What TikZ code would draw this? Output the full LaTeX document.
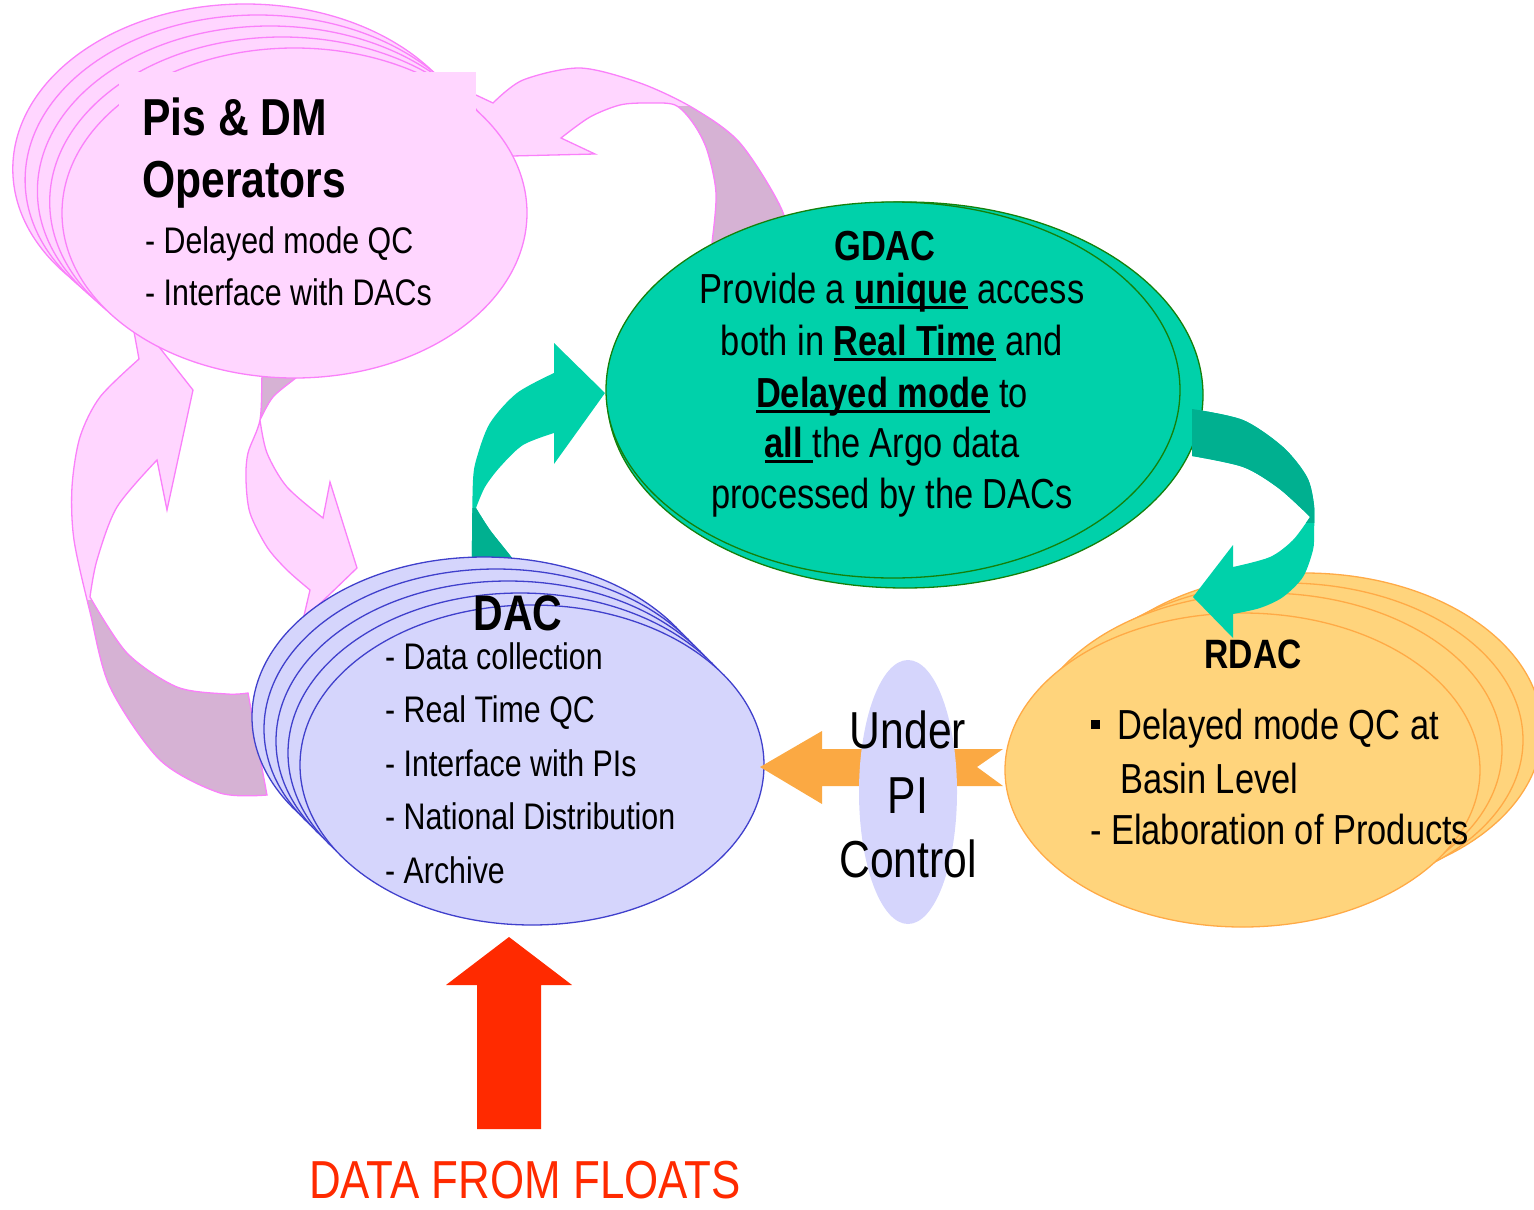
\documentclass[tikz,border=0pt]{standalone}
\usepackage{fontspec}
\setmainfont{Liberation Sans}[FakeStretch=0.82]
\usetikzlibrary{shapes.geometric}

\definecolor{pinkfill}{RGB}{255,214,255}
\definecolor{pinkline}{RGB}{250,128,250}
\definecolor{pinkdark}{RGB}{214,178,212}
\definecolor{tealfill}{RGB}{0,209,170}
\definecolor{tealdark}{RGB}{0,176,144}
\definecolor{gdacedge}{RGB}{20,128,10}
\definecolor{dacfill}{RGB}{213,213,252}
\definecolor{dacedge}{RGB}{64,64,204}
\definecolor{rdacfill}{RGB}{255,212,124}
\definecolor{rdacedge}{RGB}{255,170,70}
\definecolor{orangearrow}{RGB}{251,169,67}
\definecolor{redarrow}{RGB}{255,42,0}

\newcommand{\fsz}[1]{\fontsize{#1}{#1}\selectfont}
\newcommand{\ubf}[1]{\setbox0\hbox{\bfseries #1}\rlap{\rule[-6pt]{\wd0}{2.6pt}}\box0\relax}

% outlines of the curved block arrows
\newcommand{\arrowPG}{(512,156) -- (595,154) -- (561,138)
  -- plot[smooth] coordinates {(561,138) (590,117) (620,105) (647,103) (675,105) (693,123) (707,150) (716,193) (712,243) (708,270)}
  -- plot[smooth] coordinates {(792,262) (782,210) (740,143) (693,108) (640,83) (580,68) (523,80) (493,103)}
  -- (459,87) -- cycle}
\newcommand{\arrowUp}{(167,510) -- (193,390) -- (130,310)
  -- plot[smooth] coordinates {(139,359) (100,397) (80,437) (72,487) (74,540) (90,612) (110,687) (160,760) (220,793) (267,795)}
  -- plot[smooth] coordinates {(248,693) (227,694) (177,687) (127,653) (90,597)}
  -- plot[smooth] coordinates {(90,597) (97,560) (117,507) (157,460)} -- cycle}
\newcommand{\arrowDown}{(263,360)
  -- plot[smooth] coordinates {(263,360) (262,375) (260,420) (248,453) (246,480) (250,513) (267,547) (287,570) (310,590)}
  -- (303,620) -- (357,568) -- (330,482)
  -- plot[smooth] coordinates {(323,518) (287,487) (267,453) (260,420)}
  -- plot[smooth] coordinates {(260,420) (273,397) (297,377) (310,365)} -- cycle}
\newcommand{\arrowDG}{(605,393) -- (554,464)
  -- plot[smooth] coordinates {(554,433) (523,445) (500,467) (485,487) (476,508)}
  -- plot[smooth] coordinates {(476,508) (490,530) (512,558) (524,578)}
  -- plot[smooth] coordinates {(472,578) (472,540) (473,480) (477,457) (490,423) (517,393) (554,373)}
  -- (554,343) -- cycle}
\newcommand{\arrowGR}{(1192,409)
  -- plot[smooth] coordinates {(1192,409) (1243,420) (1283,447) (1307,477) (1314,505) (1314,533) (1313,550) (1303,577) (1283,597) (1260,608) (1233,614)}
  -- (1233,638) -- (1193,597) -- (1233,545)
  -- plot[smooth] coordinates {(1233,567) (1270,557) (1293,540) (1310,517)}
  -- plot[smooth] coordinates {(1310,517) (1303,510) (1277,487) (1243,467) (1192,456)} -- cycle}

\tikzset{
  oval/.style={ellipse, inner sep=0pt, outer sep=0pt, line width=1.3pt},
  pinkoval/.style={oval, draw=pinkline, fill=pinkfill, minimum width=465pt, minimum height=330pt},
  dacoval/.style={oval, draw=dacedge, fill=dacfill, minimum width=464pt, minimum height=320pt},
  rdacoval/.style={oval, draw=rdacedge, fill=rdacfill, minimum width=475pt, minimum height=314pt},
  gdacoval/.style={oval, draw=gdacedge, fill=tealfill},
  pinkedge/.style={draw=pinkline, line width=1.3pt, line join=miter},
  lbl/.style={inner sep=0pt, anchor=base},
  lblw/.style={inner sep=0pt, anchor=base west}
}

\begin{document}
\begin{tikzpicture}[x=1pt,y=-1pt]
\useasboundingbox (0,0) rectangle (1534,1210);
\clip (0,0) rectangle (1534,1210);

% pink arrows (behind the ovals)
\fill[pinkfill] \arrowPG;
\begin{scope}
  \clip \arrowPG;
  \fill[pinkdark] (662,106) rectangle (830,300);
\end{scope}
\draw[pinkedge] \arrowPG;
\fill[pinkfill] \arrowUp;
\begin{scope}
  \clip \arrowUp;
  \fill[pinkdark] (40,600) rectangle (300,830);
\end{scope}
\draw[pinkedge] \arrowUp;
\fill[pinkfill] \arrowDown;
\begin{scope}
  \clip \arrowDown;
  \fill[pinkdark] (230,330) rectangle (330,420);
\end{scope}
\draw[pinkedge] \arrowDown;

% Pis & DM stack
\foreach \k in {4,3,2,1}
  \node[pinkoval] (pis\k) at ({294.5-12.3*\k},{213-11*\k}) {};
\node[pinkoval] (pis) at (294.5,213) {};
\fill[pinkfill] (119,72) rectangle (476,200);

% DAC -> GDAC
\fill[tealfill] \arrowDG;
\begin{scope}
  \clip \arrowDG;
  \fill[tealdark] (460,508) rectangle (540,600);
\end{scope}

% DAC stack
\foreach \k in {4,3,2,1}
  \node[dacoval] (dac\k) at ({532-12*\k},{765-12*\k}) {};
\node[dacoval] (dac) at (532,765) {};

% GDAC
\node[gdacoval, minimum width=596pt, minimum height=386pt] (gdacback) at (905,395) {};
\node[gdacoval, minimum width=574pt, minimum height=376pt] (gdac) at (893,390) {};

% RDAC -> DAC
\fill[orangearrow] (760,767) -- (822,731) -- (822,749) -- (1003,749) -- (977,767)
  -- (1003,786) -- (822,786) -- (822,804) -- cycle;
\node[oval, fill=dacfill, minimum width=98pt, minimum height=264pt] (picontrol) at (908,792) {};

% RDAC stack
\foreach \dx/\dy/\k in {62/40/3, 43/30/2, 22/20/1}
  \node[rdacoval] (rdac\k) at ({1242.5+\dx},{770-\dy}) {};
\node[rdacoval] (rdac) at (1242.5,770) {};

% GDAC -> RDAC
\fill[tealfill] \arrowGR;
\begin{scope}
  \clip \arrowGR;
  \fill[tealdark] (1180,380) rectangle (1330,523);
\end{scope}

% floats
\fill[redarrow] (509,937) -- (572,985) -- (541,985) -- (541,1129) -- (477,1129)
  -- (477,985) -- (446,985) -- cycle;

% texts
\node[lblw, font=\bfseries\fsz{52}] (pistitle) at (142,135) {Pis \& DM};
\node[lblw, font=\bfseries\fsz{52}] (pisop) at (142,197) {Operators};
\node[lblw, font=\fsz{37}] (pisdm) at (145,253) {- Delayed mode QC};
\node[lblw, font=\fsz{37}] (pisif) at (145,305) {- Interface with DACs};

\node[lbl, font=\bfseries\fsz{42}] (gdactitle) at (885,260) {GDAC};
\foreach \y/\t [count=\i] in {303/{Provide a \ubf{unique} access},
    355/{both in \ubf{Real Time} and}, 407/{\ubf{Delayed mode} to},
    457/{\ubf{all\ }the Argo data}, 508/{processed by the DACs}}
  \node[lbl, font=\fsz{42}] (gdactext\i) at (892,\y) {\t};

\node[lbl, font=\bfseries\fsz{50}] (dactitle) at (518,630) {DAC};
\foreach \t [count=\i] in {Data collection, Real Time QC, Interface with PIs,
    National Distribution, Archive}
  \node[lblw, font=\fsz{37}] (dacitem\i) at (385,{615.5+53.5*\i}) {- \t};

\foreach \y/\t [count=\i] in {748/Under, 813/PI, 877/Control}
  \node[lbl, font=\fsz{52}] (pitext\i) at (908,\y) {\t};

\node[lbl, font=\bfseries\fsz{41}] (rdactitle) at (1253,668) {RDAC};
\node[lblw, font=\fsz{42}] (rdacqc) at (1091,739) {\rule[10pt]{9pt}{9pt}\hspace{17pt}Delayed mode QC at};
\node[lblw, font=\fsz{42}] (rdacbasin) at (1120,793) {Basin Level};
\node[lblw, font=\fsz{42}] (rdacprod) at (1090,844) {- Elaboration of Products};

\node[lbl, font=\fsz{53.5}, text=redarrow] (floats) at (525,1198) {DATA FROM FLOATS};
\end{tikzpicture}
\end{document}
